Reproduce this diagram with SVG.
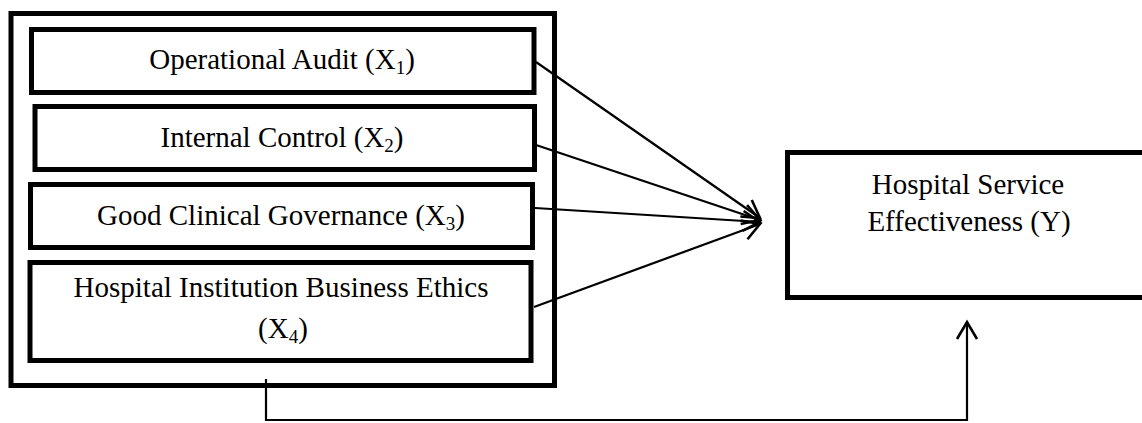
<svg xmlns="http://www.w3.org/2000/svg" width="1142" height="423" viewBox="0 0 1142 423">
<defs>
<style>
.box{fill:#fff;stroke:#000;stroke-width:5}
.lbl{font-family:"Liberation Serif","Times New Roman",serif;font-size:29px;fill:#000;text-anchor:middle}
.sub{font-size:19px}
.edge{fill:none;stroke:#000;stroke-width:2.2}
</style>
<marker id="arr" markerUnits="userSpaceOnUse" markerWidth="30" markerHeight="30" refX="0" refY="0" viewBox="-20 -15 25 30" orient="auto" overflow="visible">
<path d="M -17 -10 L 0 0 L -17 10" fill="none" stroke="#000" stroke-width="2.6"/>
</marker>
</defs>
<rect width="1142" height="423" fill="#fff"/>
<g id="group-x">
<rect class="box" x="11" y="13.5" width="543.5" height="372"/>
</g>
<g id="x1">
<rect class="box" x="31.5" y="29.5" width="502.5" height="63"/>
<text class="lbl" x="282" y="69">Operational Audit (X<tspan class="sub" dy="5">1</tspan><tspan dy="-5">)</tspan></text>
</g>
<g id="x2">
<rect class="box" x="35" y="106.5" width="499.5" height="63"/>
<text class="lbl" x="282" y="147">Internal Control (X<tspan class="sub" dy="5">2</tspan><tspan dy="-5">)</tspan></text>
</g>
<g id="x3">
<rect class="box" x="30.5" y="184.5" width="502" height="63"/>
<text class="lbl" x="281" y="225">Good Clinical Governance (X<tspan class="sub" dy="5">3</tspan><tspan dy="-5">)</tspan></text>
</g>
<g id="x4">
<rect class="box" x="30" y="262.5" width="501" height="98"/>
<text class="lbl" x="281" y="297">Hospital Institution Business Ethics</text>
<text class="lbl" x="283" y="338">(X<tspan class="sub" dy="5">4</tspan><tspan dy="-5">)</tspan></text>
</g>
<g id="y">
<rect class="box" x="787.5" y="152.5" width="370" height="145"/>
<text class="lbl" x="968" y="194">Hospital Service</text>
<text class="lbl" x="969" y="231">Effectiveness (Y)</text>
</g>
<g id="connectors">
<line class="edge" x1="536" y1="62" x2="760" y2="218" marker-end="url(#arr)"/>
<line class="edge" x1="536" y1="145" x2="760" y2="220" marker-end="url(#arr)"/>
<line class="edge" x1="535" y1="208" x2="760" y2="222" marker-end="url(#arr)"/>
<line class="edge" x1="534" y1="307" x2="760" y2="224" marker-end="url(#arr)"/>
<polyline class="edge" points="266,379 266,420 967,420 967,322" marker-end="url(#arr)"/>
</g>
</svg>
